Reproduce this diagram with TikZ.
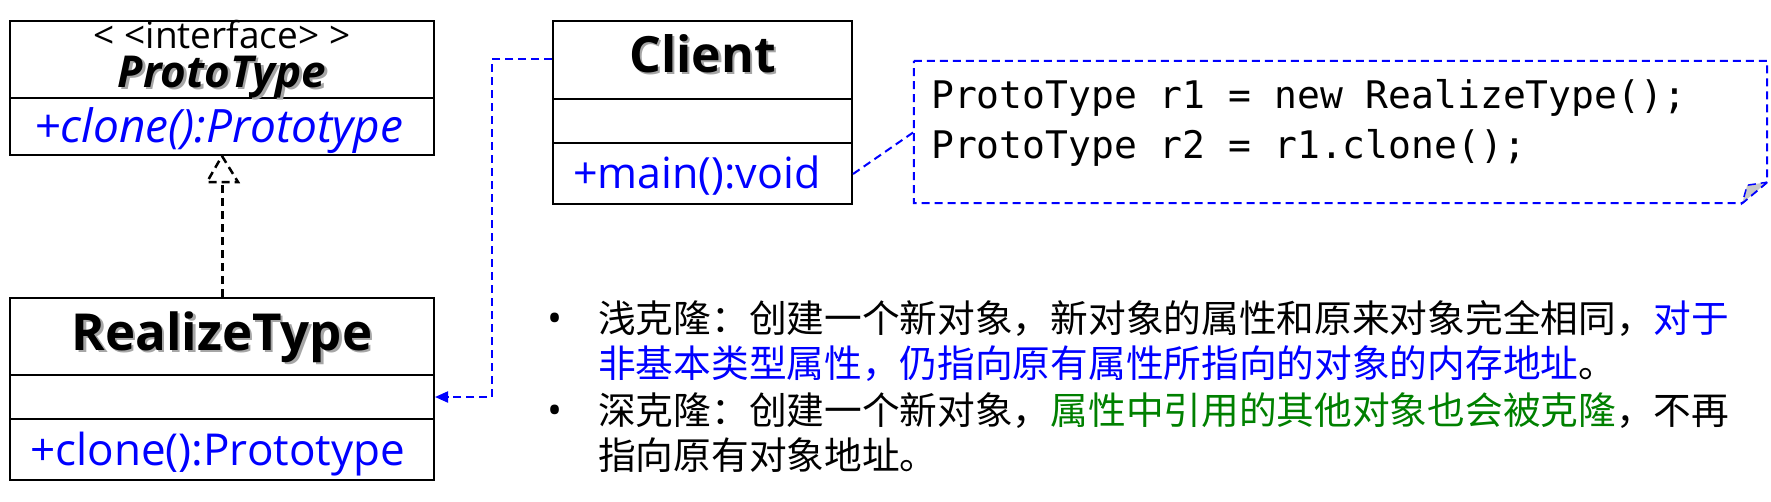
\documentclass[tikz,border=0pt]{standalone}
\usepackage{fontspec}
\setmainfont{Open Sans}
\newfontfamily\cjk{Noto Sans CJK SC}
\newfontfamily\mono{DejaVu Sans Mono}
\usetikzlibrary{arrows.meta,calc}
\definecolor{umlblue}{RGB}{0,0,255}
\definecolor{umlgreen}{RGB}{0,128,0}
\definecolor{foldgray}{RGB}{200,200,200}
\begin{document}
\begin{tikzpicture}[x=1pt,y=-1pt,
  umlbox/.style={draw=black, line width=2pt, inner sep=0pt},
  divider/.style={line width=2pt},
  txt/.style={inner sep=0pt, anchor=base},
  shadow/.style={inner sep=0pt, anchor=base, text=black!35},
  blackdash/.style={line width=3pt, dash pattern=on 8pt off 5pt},
  bluedash/.style={draw=umlblue, line width=2pt, dash pattern=on 8pt off 5pt},
  cjktext/.style={inner sep=0pt, anchor=base west, font=\cjk\fontsize{37.7}{46}\selectfont}
]
\useasboundingbox (0,0) rectangle (1771,501);

% ProtoType interface
\node[umlbox, minimum width=424pt, minimum height=134pt] (proto) at (222,88) {};
\draw[divider] ($(proto.north west)+(0,78)$) -- ($(proto.north east)+(0,78)$);
\node[txt, font=\fontsize{37}{40}\selectfont] (protoStereo) at (222,48) {< <interface> >};
\node[shadow, font=\bfseries\itshape\fontsize{44}{48}\selectfont] (protoNameS) at (224.5,89.5) {ProtoType};
\node[txt, font=\bfseries\itshape\fontsize{44}{48}\selectfont] (protoName) at (222,87) {ProtoType};
\node[txt, text=umlblue, font=\itshape\fontsize{46}{48}\selectfont] (protoOp) at (219,142) {+clone():Prototype};

% RealizeType
\node[umlbox, minimum width=424pt, minimum height=182pt] (real) at (222,389) {};
\draw[divider] ($(real.north west)+(0,78)$) -- ($(real.north east)+(0,78)$);
\draw[divider] ($(real.north west)+(0,122)$) -- ($(real.north east)+(0,122)$);
\node[shadow, font=\bfseries\fontsize{51}{58}\selectfont] (realNameS) at (224.5,352.5) {RealizeType};
\node[txt, font=\bfseries\fontsize{51}{58}\selectfont] (realName) at (222,350) {RealizeType};
\node[inner sep=0pt, anchor=base west, text=umlblue, font=\fontsize{44}{50}\selectfont] (realOp) at (30,465) {+clone():Prototype};

% Client
\node[umlbox, minimum width=299pt, minimum height=183pt] (client) at (702.5,112.5) {};
\draw[divider] ($(client.north west)+(0,79)$) -- ($(client.north east)+(0,79)$);
\draw[divider] ($(client.north west)+(0,123)$) -- ($(client.north east)+(0,123)$);
\node[shadow, font=\bfseries\fontsize{50}{58}\selectfont] (clientNameS) at (705,74.5) {Client};
\node[txt, font=\bfseries\fontsize{50}{58}\selectfont] (clientName) at (702.5,72) {Client};
\node[inner sep=0pt, anchor=base west, text=umlblue, font=\fontsize{43}{50}\selectfont] (clientOp) at (573,188) {+main():void};

% Note
\node[minimum width=853pt, minimum height=142pt, inner sep=0pt] (note) at (1340.5,132) {};
\draw[bluedash] (note.north west) -- (note.north east) -- ($(note.south east)+(0,-21)$)
  -- ($(note.south east)+(-25,0)$) -- (note.south west) -- cycle;
\draw[bluedash, fill=foldgray, line width=1.5pt] ($(note.south east)+(0,-21)$) -- ($(note.south east)+(-25,0)$)
  -- ($(note.south east)+(-20,-18)$) -- cycle;
\node[inner sep=0pt, anchor=base west, font=\mono\fontsize{38}{50}\selectfont] (code1) at (931,108) {ProtoType r1 = new RealizeType();};
\node[inner sep=0pt, anchor=base west, font=\mono\fontsize{38}{50}\selectfont] (code2) at (931,158) {ProtoType r2 = r1.clone();};

% connectors
\draw[blackdash] (real.north) -- ($(proto.south)+(0,26)$);
\draw[blackdash, line width=2.5pt, fill=white] (proto.south) -- ++(16,26) -- ++(-31,0) -- cycle;

\coordinate (clientW) at ($(client.north west)+(0,39)$);
\coordinate (realE) at ($(real.north east)+(0,100)$);
\draw[bluedash, -{Triangle[length=13pt,width=11pt]}] (clientW) -- ($(clientW)+(-60,0)$) |- (realE);

\coordinate (clientE) at ($(client.south east)+(0,-31)$);
\draw[bluedash] (clientE) -- (note.west);

% bullet text
\node[txt, font=\fontsize{40}{40}\selectfont] (b1) at (555,332) {•};
\node[txt, font=\fontsize{40}{40}\selectfont] (b2) at (555,424) {•};
\node[cjktext] (l1) at (598,332) {浅克隆：创建一个新对象，新对象的属性和原来对象完全相同，{\color{umlblue}对于}};
\node[cjktext, text=umlblue] (l2) at (598,377) {非基本类型属性，仍指向原有属性所指向的对象的内存地址{\color{black}。}};
\node[cjktext] (l3) at (598,424) {深克隆：创建一个新对象，{\color{umlgreen}属性中引用的其他对象也会被克隆}，不再};
\node[cjktext] (l4) at (598,469) {指向原有对象地址。};
\end{tikzpicture}
\end{document}
